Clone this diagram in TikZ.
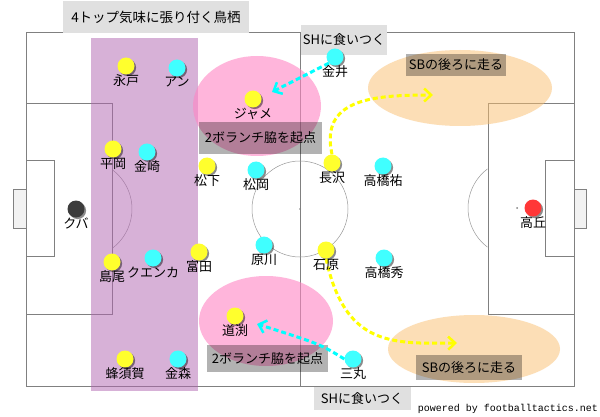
\documentclass[tikz,border=0pt]{standalone}
\usepackage{fontspec}
\newfontfamily\jp{Noto Sans CJK JP}
\setmonofont{Liberation Mono}
\usetikzlibrary{arrows.meta,shadows}
\definecolor{plinec}{RGB}{128,128,128}
\definecolor{purplez}{RGB}{177,101,177}
\definecolor{pinkz}{RGB}{255,133,195}
\definecolor{orangez}{RGB}{250,190,110}
\definecolor{yelp}{RGB}{255,255,45}
\definecolor{cyap}{RGB}{64,255,255}
\definecolor{blkp}{RGB}{60,60,60}
\definecolor{redp}{RGB}{255,55,55}
\definecolor{lgray}{RGB}{224,224,224}
\definecolor{arryel}{RGB}{255,255,0}
\definecolor{arrcya}{RGB}{0,255,255}
\begin{document}
\begin{tikzpicture}[x=1pt,y=-1pt,
  pl/.style={draw=plinec,line width=0.8pt},
  thinl/.style={draw=plinec!80,line width=0.5pt},
  ply/.style={circle,minimum size=17pt,inner sep=0pt,
    drop shadow={shadow xshift=1.6pt,shadow yshift=-1.6pt,opacity=0.45,fill=black}},
  yp/.style={ply,fill=yelp},
  cp/.style={ply,fill=cyap},
  bp/.style={ply,fill=blkp},
  rp/.style={ply,fill=redp},
  lbl/.style={font=\jp\fontsize{13}{13}\selectfont,inner sep=0pt,anchor=north},
  gbox/.style={fill=black,fill opacity=0.3,text opacity=1,inner sep=0pt,
    font=\jp\fontsize{13}{13}\selectfont},
  lbox/.style={fill=lgray,inner sep=0pt,font=\jp\fontsize{13}{13}\selectfont},
  yarr/.style={draw=arryel,line width=3pt,dash pattern=on 5pt off 3pt,
    -{Straight Barb[length=7pt,width=13pt,line width=2.5pt]}},
  carr/.style={draw=arrcya,line width=3pt,dash pattern=on 5pt off 3pt,
    -{Straight Barb[length=7pt,width=13pt,line width=2.5pt]}}]
\useasboundingbox (0,0) rectangle (600,417);
\fill[white] (0,0) rectangle (600,417);
% pitch
\draw[pl] (26,32) rectangle (574,386);
\draw[pl] (300,32) -- (300,386);
\draw[pl] (26,103) rectangle (112,314);
\draw[pl] (26,160) rectangle (54,256);
\draw[pl,fill=gray!10] (13,189) rectangle (26,228);
\draw[pl] (488,103) rectangle (574,314);
\draw[pl] (545,160) rectangle (574,256);
\draw[pl,fill=gray!10] (574,189) rectangle (586,228);
\draw[thinl] (300,209) circle (48);
\draw[thinl] (83,209) ++(-53:49) arc[start angle=-53,end angle=53,radius=49];
\draw[thinl] (517,208) ++(127:49) arc[start angle=127,end angle=233,radius=49];
\fill[plinec] (300,209) circle (1);
\fill[plinec] (517,208) circle (1);
% zones
\fill[purplez,opacity=0.5] (91,38) rectangle (198,391);
\fill[pinkz,opacity=0.6] (257,106) ellipse [x radius=64,y radius=50];
\fill[pinkz,opacity=0.6] (266,321) ellipse [x radius=67,y radius=45];
\fill[orangez,opacity=0.5] (460,88) ellipse [x radius=92,y radius=38];
\fill[orangez,opacity=0.5] (474,349) ellipse [x radius=86,y radius=34];
% labels in gray boxes
\node[gbox,minimum width=123pt,minimum height=32pt] (b1) at (260.5,138) {2ボランチ脇を起点};
\node[gbox,minimum width=121pt,minimum height=27pt] (b2) at (267.5,358.5) {2ボランチ脇を起点};
\node[gbox,minimum width=100pt,minimum height=22pt] (s1) at (456,65) {SBの後ろに走る};
\node[gbox,minimum width=106pt,minimum height=25pt] (s2) at (469,367.5) {SBの後ろに走る};
% light boxes
\node[lbox,minimum width=186pt,minimum height=32pt,font=\jp\fontsize{13.5}{13.5}\selectfont] (title) at (156,17) {4トップ気味に張り付く鳥栖};
\node[lbox,minimum width=86pt,minimum height=30pt] (sh1) at (344,40) {SHに食いつく};
\node[lbox,minimum width=97pt,minimum height=23pt] (sh2) at (362,398.5) {SHに食いつく};
% players
\node[yp] (nagato) at (126,66) {};
\node[cp] (an) at (177,68) {};
\node[yp] (jame) at (253,99) {};
\node[cp] (kanai) at (335,57) {};
\node[yp] (hiraoka) at (113,149) {};
\node[cp] (kanezaki) at (147,152) {};
\node[yp] (matsushita) at (207,166) {};
\node[cp] (matsuoka) at (256,170) {};
\node[yp] (nagasawa) at (332,163) {};
\node[cp] (takahashiy) at (383,166) {};
\node[bp] (kuba) at (76,209) {};
\node[rp] (takaoka) at (533,208) {};
\node[yp] (shimao) at (112,262) {};
\node[cp] (cuenca) at (153,258) {};
\node[yp] (tomita) at (199,252) {};
\node[cp] (harakawa) at (264,245) {};
\node[yp] (ishihara) at (326,250) {};
\node[cp] (takahashih) at (384,258) {};
\node[yp] (michibuchi) at (235,316) {};
\node[yp] (hachisuka) at (125,359) {};
\node[cp] (kanamori) at (178,359) {};
\node[cp] (mitsumaru) at (353,359) {};
% arrows
\coordinate (jt) at (272,92);
\coordinate (mt) at (257,324);
\coordinate (ut) at (433,95);
\coordinate (dt) at (457,343);
\draw[carr] (kanai.south west) -- (jt);
\draw[carr] (mitsumaru.west) .. controls (320,344) .. (mt);
\draw[yarr] (nagasawa.north) .. controls (320,100) and (370,95) .. (ut);
\draw[yarr] (ishihara.south) .. controls (345,345) and (390,344) .. (dt);
% player labels
\node[lbl] (lnagato) at (nagato.south) {永戸};
\node[lbl] (lan) at (an.south) {アン};
\node[lbl] (ljame) at (jame.south) {ジャメ};
\node[lbl] (lkanai) at (kanai.south) {金井};
\node[lbl] (lhiraoka) at (hiraoka.south) {平岡};
\node[lbl] (lkanezaki) at (kanezaki.south) {金崎};
\node[lbl] (lmatsushita) at (matsushita.south) {松下};
\node[lbl] (lmatsuoka) at (matsuoka.south) {松岡};
\node[lbl] (lnagasawa) at (nagasawa.south) {長沢};
\node[lbl] (ltakahashiy) at (takahashiy.south) {高橋祐};
\node[lbl] (lkuba) at (kuba.south) {クバ};
\node[lbl] (ltakaoka) at (takaoka.south) {高丘};
\node[lbl] (lshimao) at (shimao.south) {島尾};
\node[lbl] (lcuenca) at (cuenca.south) {クエンカ};
\node[lbl] (ltomita) at (tomita.south) {富田};
\node[lbl] (lharakawa) at (harakawa.south) {原川};
\node[lbl] (lishihara) at (ishihara.south) {石原};
\node[lbl] (ltakahashih) at (takahashih.south) {高橋秀};
\node[lbl] (lmichibuchi) at (michibuchi.south) {道渕};
\node[lbl] (lhachisuka) at (hachisuka.south) {蜂須賀};
\node[lbl] (lkanamori) at (kanamori.south) {金森};
\node[lbl] (lmitsumaru) at (mitsumaru.south) {三丸};
\node[font=\ttfamily\fontsize{10}{10}\selectfont,anchor=east,inner sep=0pt] (pw) at (598,409) {powered by footballtactics.net};
\end{tikzpicture}
\end{document}
